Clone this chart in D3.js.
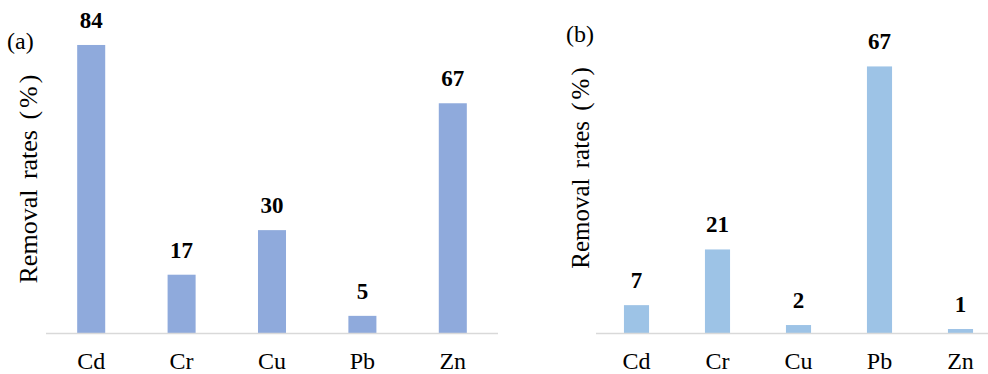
<!DOCTYPE html>
<html>
<head>
<meta charset="utf-8">
<script src="https://cdn.jsdelivr.net/npm/d3@7"></script>
<style>
  html, body { margin: 0; padding: 0; background: #fff; }
  svg { display: block; }
  svg text { font-family: 'Liberation Serif', Tinos, 'Times New Roman', Times, serif; }
</style>
</head>
<body>
<svg id="chart" width="988" height="374"></svg>
<script>
// Metals and removal rates for the two treatments
const metals = ["Cd", "Cr", "Cu", "Pb", "Zn"];
const removalA = [84, 17, 30, 5, 67];
const removalB = [7, 21, 2, 67, 1];
const panelTags = ["(a)", "(b)"];
const yTitleParts = ["Removal rates (", "%", ")"];

const svg = d3.select("#chart");

const panels = [
  { tag: panelTags[0], values: removalA, color: "#8faadc",
    xRange: [46, 498], yMax: 90, yTop: 24.4, tagPos: [7, 49],
    titleX: 37, titleY: 179, titleSize: 26 },
  { tag: panelTags[1], values: removalB, color: "#9dc3e6",
    xRange: [596, 1001], yMax: 70, yTop: 54.5, tagPos: [566, 42],
    titleX: 589, titleY: 168, titleSize: 25 }
];

const baseY = 333;

panels.forEach(p => {
  const g = svg.append("g");
  const x = d3.scaleBand().domain(metals).range(p.xRange)
    .paddingInner(0.69).paddingOuter(0.345);
  const y = d3.scaleLinear().domain([0, p.yMax]).range([baseY, p.yTop]);

  // bars
  g.selectAll("rect").data(metals).join("rect")
    .attr("x", d => x(d))
    .attr("width", x.bandwidth())
    .attr("y", (d, i) => y(p.values[i]))
    .attr("height", (d, i) => y(0) - y(p.values[i]))
    .attr("fill", p.color);

  // category axis line
  g.append("line")
    .attr("x1", p.xRange[0]).attr("x2", p.xRange[1])
    .attr("y1", y(0) + 0.5).attr("y2", y(0) + 0.5)
    .attr("stroke", "#d9d9d9").attr("stroke-width", 1.5);

  // category labels
  g.selectAll("text.cat").data(metals).join("text")
    .attr("class", "cat")
    .attr("x", d => x(d) + x.bandwidth() / 2)
    .attr("y", 369)
    .attr("text-anchor", "middle")
    .attr("font-size", 24)
    .attr("fill", "#000")
    .text(d => d);

  // value labels
  g.selectAll("text.val").data(metals).join("text")
    .attr("class", "val")
    .attr("x", d => x(d) + x.bandwidth() / 2)
    .attr("y", (d, i) => y(p.values[i]) - 17)
    .attr("text-anchor", "middle")
    .attr("font-size", 23)
    .attr("font-weight", "bold")
    .attr("fill", "#000")
    .text((d, i) => p.values[i]);

  // panel tag
  g.append("text")
    .attr("x", p.tagPos[0]).attr("y", p.tagPos[1])
    .attr("font-size", 24)
    .text(p.tag);

  // y-axis title, with a little air inside the parentheses
  const t = g.append("text")
    .attr("transform", `translate(${p.titleX},${p.titleY}) rotate(-90)`)
    .attr("text-anchor", "middle")
    .attr("font-size", p.titleSize)
    .attr("word-spacing", 4);
  t.selectAll("tspan").data(yTitleParts).join("tspan")
    .attr("dx", (d, i) => i === 0 ? 0 : 3)
    .text(d => d);
});
</script>
</body>
</html>
